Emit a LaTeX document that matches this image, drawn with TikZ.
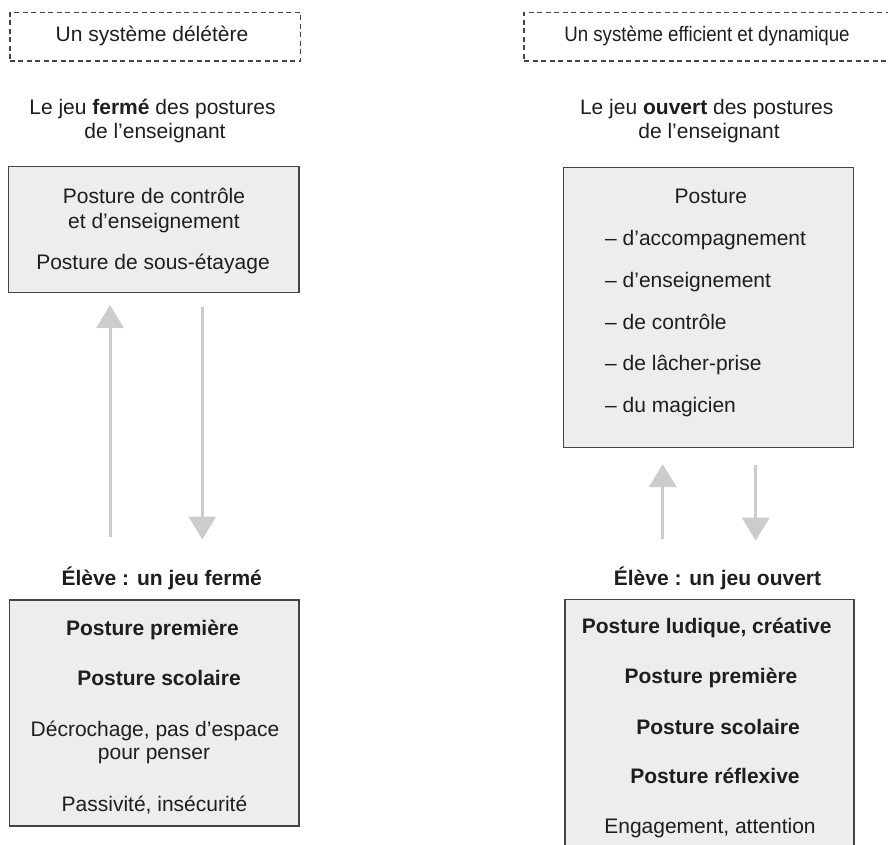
\documentclass[tikz,border=0pt]{standalone}
\usepackage{fontspec}
\setmainfont{Liberation Sans}
\newfontfamily\condsans[FakeStretch=0.89]{Liberation Sans}
\usepackage{xcolor}
\usepackage{tikz}
\usetikzlibrary{arrows.meta}

\definecolor{boxfill}{HTML}{EDEDED}
\definecolor{boxline}{HTML}{444444}
\definecolor{arrowgray}{HTML}{CCCCCC}
\definecolor{ink}{HTML}{1E1E1E}

\begin{document}
\begin{tikzpicture}[x=1pt,y=-1pt,
  every node/.style={font=\fontsize{21}{25}\selectfont, text=ink, inner sep=0pt},
  txt/.style={anchor=base},
  bold/.style={anchor=base, font=\fontsize{21}{25}\selectfont\bfseries},
  dashbox/.style={draw=boxline, line width=1.4pt, dash pattern=on 5pt off 3.5pt},
  greybox/.style={draw=boxline, fill=boxfill, line width=1.3pt},
  flow/.style={draw=arrowgray, line width=3pt, -{Triangle[length=23pt,width=27pt]}}]
\useasboundingbox (0,0) rectangle (888,845);

% titles
\node[dashbox, minimum width=290.7pt, minimum height=48.3pt] (ltitle) at (155.3,36.8) {};
\node[dashbox, minimum width=376pt, minimum height=48.3pt] (rtitle) at (712,36.8) {};
\node[txt] (ltitletxt) at (152,41.7) {Un système délétère};
\node[txt, font=\fontsize{21}{25}\condsans] (rtitletxt) at (707,41.7) {Un système efficient et dynamique};

\node[txt] (ljeu1) at (152.5,115) {Le jeu \textbf{fermé} des postures};
\node[txt] (ljeu2) at (155,139) {de l’enseignant};
\node[txt] (rjeu1) at (706.7,115) {Le jeu \textbf{ouvert} des postures};
\node[txt] (rjeu2) at (709,139) {de l’enseignant};

% postures de l'enseignant
\node[greybox, minimum width=290.5pt, minimum height=126pt] (ltop) at (153.8,229.7) {};
\node[txt] (ltop1) at (154,204) {Posture de contrôle};
\node[txt] (ltop2) at (154,228) {et d’enseignement};
\node[txt] (ltop3) at (153,269) {Posture de sous-étayage};

\node[greybox, minimum width=290pt, minimum height=280pt] (rtop) at (708.5,307.3) {};
\node[txt] (rtop0) at (710.8,204) {Posture};
\foreach \lbl [count=\i] in {d’accompagnement, d’enseignement, de contrôle, de lâcher-prise, du magicien}
  \node[txt, anchor=base west] (rtop\i) at (605,{204+41.7*\i}) {-- \lbl};

% fleches
\coordinate (lup1) at (110,537);    \coordinate (lup2) at (110,305);
\coordinate (ldown1) at (202.3,307); \coordinate (ldown2) at (202.3,539.5);
\coordinate (rup1) at (662.7,539.3);  \coordinate (rup2) at (662.7,464);
\coordinate (rdown1) at (755.7,465);  \coordinate (rdown2) at (755.7,540.7);
\draw[flow] (lup1) -- (lup2);
\draw[flow] (ldown1) -- (ldown2);
\draw[flow] (rup1) -- (rup2);
\draw[flow] (rdown1) -- (rdown2);

% postures de l'eleve
\node[bold] (lelev) at (161.7,585) {Élève : un jeu fermé};
\node[bold] (relev) at (717.5,585) {Élève : un jeu ouvert};

\node[greybox, minimum width=289.5pt, minimum height=226pt] (lbot) at (154.3,713) {};
\node[bold] (lbot1) at (152.5,635) {Posture première};
\node[bold] (lbot2) at (159,685) {Posture scolaire};
\node[txt] (lbot3) at (155,736) {Décrochage, pas d’espace};
\node[txt] (lbot4) at (154,759) {pour penser};
\node[txt] (lbot5) at (154.5,811) {Passivité, insécurité};

\node[greybox, minimum width=289pt, minimum height=271pt] (rbot) at (709.5,735) {};
\node[bold] (rbot1) at (706.7,633.3) {Posture ludique, créative};
\node[bold] (rbot2) at (711,683.3) {Posture première};
\node[bold] (rbot3) at (718,734) {Posture scolaire};
\node[bold] (rbot4) at (715,783.3) {Posture réflexive};
\node[txt] (rbot5) at (710,833.3) {Engagement, attention};
\end{tikzpicture}
\end{document}
